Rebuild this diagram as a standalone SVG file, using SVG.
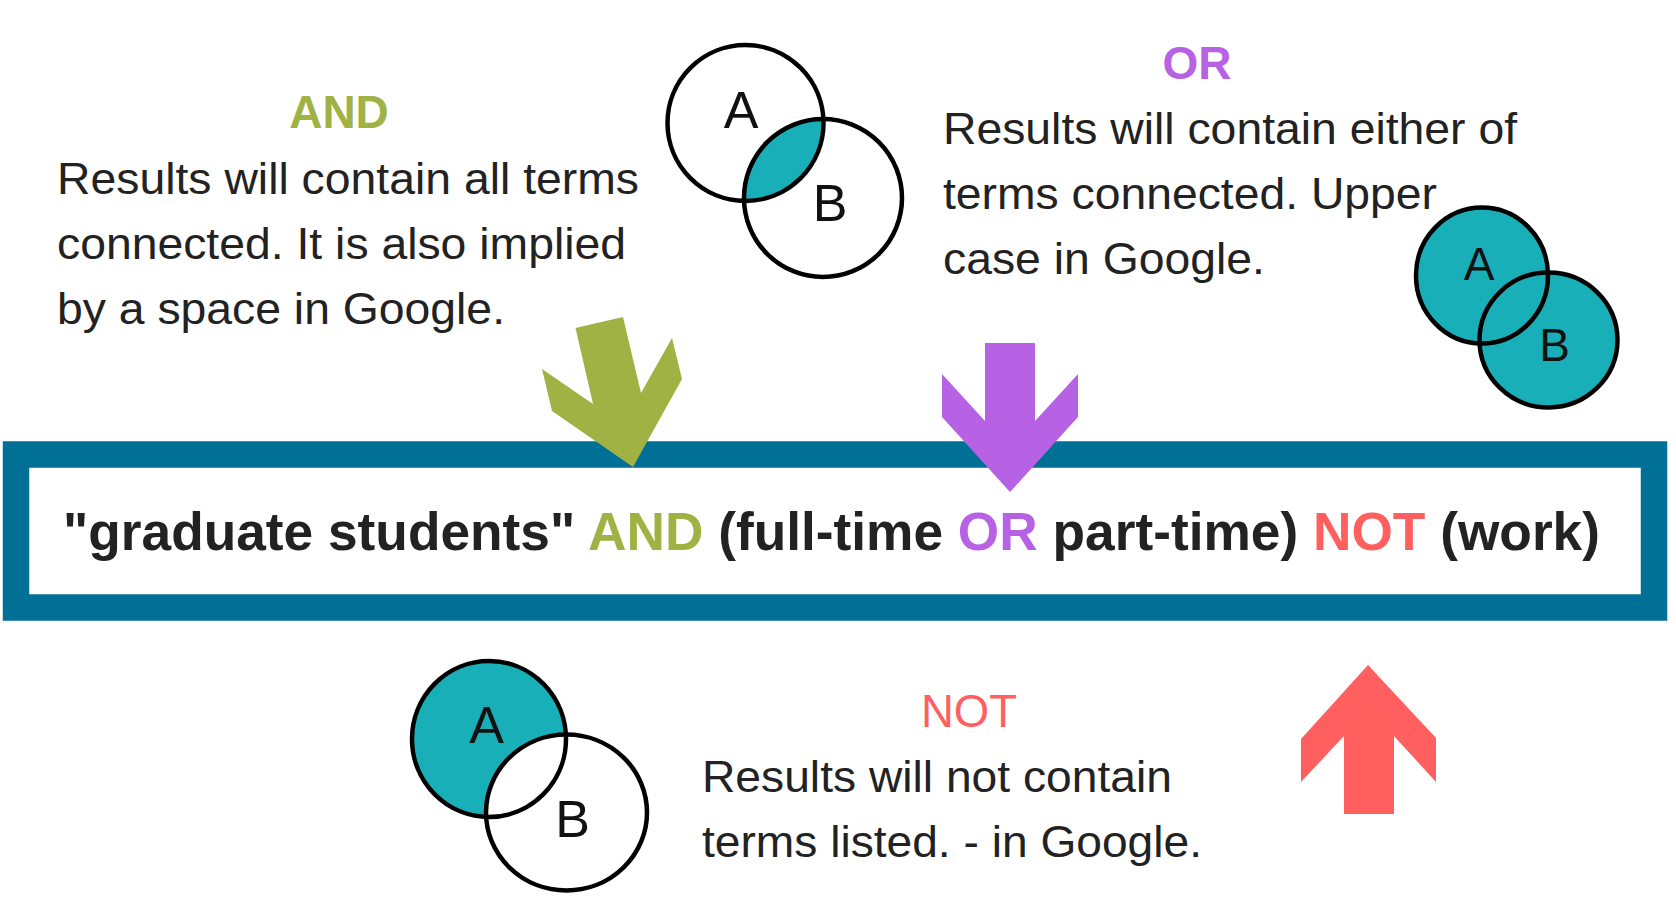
<svg xmlns="http://www.w3.org/2000/svg" width="1676" height="924" viewBox="0 0 1676 924">
<style>
  .body { font-family: "Liberation Sans", Arial, sans-serif; font-size: 44px; fill: #222222; }
  .head { font-family: "Liberation Sans", Arial, sans-serif; font-size: 46px; font-weight: bold; text-anchor: middle; }
  .venn { fill: none; stroke: #000000; stroke-width: 4.5; }
  .vlabel { font-family: "Liberation Sans", Arial, sans-serif; fill: #111111; text-anchor: middle; }
  .query { font-family: "Liberation Sans", Arial, sans-serif; font-size: 53px; font-weight: bold; fill: #222222; }
  .green { fill: #A0B243; }
  .purple { fill: #B762E4; }
  .red { fill: #FF5F5F; }
  .teal { fill: #19AFB9; }
</style>
<defs>
  <clipPath id="clipAndA"><circle cx="745.5" cy="123" r="78"/></clipPath>
</defs>
<rect width="1676" height="924" fill="#ffffff"/>

<g id="and-text">
  <text class="head green" x="339" y="128">AND</text>
  <text class="body" x="57" y="193.5" textLength="582" lengthAdjust="spacingAndGlyphs">Results will contain all terms</text>
  <text class="body" x="57" y="258.5" textLength="569" lengthAdjust="spacingAndGlyphs">connected. It is also implied</text>
  <text class="body" x="57" y="323.5" textLength="448" lengthAdjust="spacingAndGlyphs">by a space in Google.</text>
</g>

<g id="and-venn">
  <circle cx="745.5" cy="123" r="78" fill="#ffffff"/>
  <circle cx="823" cy="198" r="79" fill="#ffffff"/>
  <circle cx="823" cy="198" r="79" class="teal" clip-path="url(#clipAndA)"/>
  <circle cx="745.5" cy="123" r="78" class="venn"/>
  <circle cx="823" cy="198" r="79" class="venn"/>
  <text class="vlabel" x="741" y="128" font-size="52">A</text>
  <text class="vlabel" x="830" y="221" font-size="52">B</text>
</g>

<g id="or-text">
  <text class="head purple" x="1197" y="79">OR</text>
  <text class="body" x="943" y="143.5" textLength="574" lengthAdjust="spacingAndGlyphs">Results will contain either of</text>
  <text class="body" x="943" y="208.5" textLength="494" lengthAdjust="spacingAndGlyphs">terms connected. Upper</text>
  <text class="body" x="943" y="273.5" textLength="322" lengthAdjust="spacingAndGlyphs">case in Google.</text>
</g>

<g id="or-venn">
  <ellipse cx="1482" cy="275.5" rx="66" ry="68" class="teal"/>
  <ellipse cx="1548.5" cy="340" rx="69" ry="67.5" class="teal"/>
  <ellipse cx="1482" cy="275.5" rx="66" ry="68" class="venn"/>
  <ellipse cx="1548.5" cy="340" rx="69" ry="67.5" class="venn"/>
  <text class="vlabel" x="1479" y="280" font-size="46">A</text>
  <text class="vlabel" x="1554.5" y="361" font-size="46">B</text>
</g>

<g id="query-box">
  <rect x="16" y="454.5" width="1638" height="153" fill="#ffffff" stroke="#007096" stroke-width="26.5"/>
  <text class="query" x="63" y="550" textLength="1537" lengthAdjust="spacingAndGlyphs">"graduate students" <tspan class="green">AND</tspan> (full-time <tspan class="purple">OR</tspan> part-time) <tspan class="red">NOT</tspan> (work)</text>
</g>

<g id="not-venn">
  <ellipse cx="489" cy="739" rx="77" ry="78" class="teal"/>
  <ellipse cx="566.5" cy="812.5" rx="80.5" ry="78" fill="#ffffff"/>
  <ellipse cx="489" cy="739" rx="77" ry="78" class="venn"/>
  <ellipse cx="566.5" cy="812.5" rx="80.5" ry="78" class="venn"/>
  <text class="vlabel" x="486.5" y="743" font-size="52">A</text>
  <text class="vlabel" x="572.5" y="837" font-size="52">B</text>
</g>

<g id="not-text">
  <text x="969" y="727" font-family="Liberation Sans, Arial, sans-serif" font-size="45.5" text-anchor="middle" class="red">NOT</text>
  <text class="body" x="702" y="791.5" textLength="470" lengthAdjust="spacingAndGlyphs">Results will not contain</text>
  <text class="body" x="702" y="856.5" textLength="500" lengthAdjust="spacingAndGlyphs">terms listed. - in Google.</text>
</g>

<g id="connectors">
  <polygon class="green" points="575.5,328 623,317 641,393 672,338 682,379 633,467 552,411 542,369 593,404"/>
  <polygon class="purple" points="985,343 1035,343 1035,421 1078,374 1078,417 1010,492 942,417 942,374 985,421"/>
  <polygon class="red" points="1368,665 1436,738 1436,782 1394,736 1394,814 1344,814 1344,736 1301,782 1301,739"/>
</g>
</svg>
